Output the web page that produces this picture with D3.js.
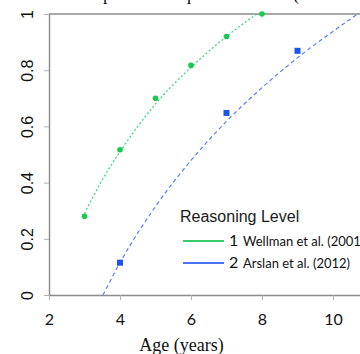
<!DOCTYPE html>
<html>
<head>
<meta charset="UTF-8">
<title>Reasoning Level by Age</title>
<script src="https://d3js.org/d3.v7.min.js"></script>
<style>
  body { margin: 0; background: #fff; }
  svg { display: block; }
</style>
</head>
<body>
<svg width="360" height="354"></svg>
<script>
// observed points
var greenAges = [3, 4, 5, 6, 7, 8];
var greenVals = [0.28, 0.517, 0.70, 0.817, 0.92, 1.0];
var blueAges = [4, 7, 9];
var blueVals = [0.115, 0.648, 0.869];

// trend curves
var greenTrendAges = [3, 3.5, 4, 5, 6, 7, 7.85];
var greenTrendVals = [0.29, 0.41, 0.51, 0.68, 0.81, 0.92, 1.0];
var blueTrendAges = [3.52, 4, 5, 6, 7, 8, 9, 10, 10.7];
var blueTrendVals = [0, 0.115, 0.315, 0.479, 0.618, 0.738, 0.844, 0.938, 1.0];

var xTicks = [2, 4, 6, 8, 10];
var yTicks = [0, 0.2, 0.4, 0.6, 0.8, 1];
var legendNums = ["1", "2"];
var legendLabels = ["Wellman et al. (2001", "Arslan et al. (2012)"];
var legendColors = ["#3cc96c", "#4a73f0"];

var svg = d3.select("svg");

var x = d3.scaleLinear().domain([2, 11]).range([49, 368.5]);
var y = d3.scaleLinear().domain([0, 1]).range([295, 14]);

// title line above the plot, mostly cut off by the frame
var title = svg.append("text")
  .attr("x", 0).attr("y", -0.5)
  .attr("font-family", "Liberation Serif, serif")
  .attr("font-size", 18)
  .attr("fill", "#111")
  .text("the children who passed the question asked (Sec");
var t = title.node();
var qi = title.text().indexOf("q");
var qx = t.getSubStringLength(0, qi);
title.attr("x", 182 - qx);

// top border
svg.append("line")
  .attr("x1", x(2)).attr("x2", 360)
  .attr("y1", y(1)).attr("y2", y(1))
  .attr("stroke", "#8a8a8a").attr("stroke-width", 1.6);

// x axis
var xAxis = svg.append("g")
  .attr("transform", "translate(0," + y(0) + ")")
  .call(d3.axisBottom(x).tickValues(xTicks).tickSize(5).tickSizeOuter(0).tickPadding(14));
xAxis.select(".domain").attr("stroke", "#8a8a8a").attr("stroke-width", 1.4);
xAxis.selectAll(".tick line").attr("stroke", "#b0b0b0");
xAxis.selectAll("text")
  .attr("font-family", "Lato, sans-serif")
  .attr("font-size", 16)
  .attr("fill", "#111");

// y axis
var yAxis = svg.append("g")
  .attr("transform", "translate(" + x(2) + ",0)")
  .call(d3.axisLeft(y).tickValues(yTicks).tickSize(5).tickSizeOuter(0).tickFormat(d3.format("")));
yAxis.select(".domain").attr("stroke", "#8a8a8a").attr("stroke-width", 1.4);
yAxis.selectAll(".tick line").attr("stroke", "#b0b0b0");
yAxis.selectAll("text")
  .attr("x", null).attr("dy", null)
  .attr("transform", "translate(-16,0) rotate(-90)")
  .attr("text-anchor", "middle")
  .attr("font-family", "Liberation Sans, Arial, sans-serif")
  .attr("font-size", 16)
  .attr("fill", "#111");

// x label
svg.append("text")
  .attr("x", 181.5).attr("y", 351)
  .attr("text-anchor", "middle")
  .attr("font-family", "Liberation Serif, serif")
  .attr("font-size", 18)
  .attr("fill", "#111")
  .text("Age (years)");

var line = d3.line()
  .x(d => x(d[0]))
  .y(d => y(d[1]))
  .curve(d3.curveMonotoneX);

svg.append("path")
  .datum(d3.zip(greenTrendAges, greenTrendVals))
  .attr("d", line)
  .attr("fill", "none")
  .attr("stroke", "#3fd67a")
  .attr("stroke-width", 1.3)
  .attr("stroke-dasharray", "2,2.2");

svg.append("path")
  .datum(d3.zip(blueTrendAges, blueTrendVals))
  .attr("d", line)
  .attr("fill", "none")
  .attr("stroke", "#5a80f2")
  .attr("stroke-width", 1.2)
  .attr("stroke-dasharray", "4,3");

svg.selectAll(".gpt")
  .data(d3.zip(greenAges, greenVals))
  .enter()
  .append("circle")
  .attr("class", "gpt")
  .attr("cx", d => x(d[0]))
  .attr("cy", d => y(d[1]))
  .attr("r", 2.8)
  .attr("fill", "#16c94f");

svg.selectAll(".bpt")
  .data(d3.zip(blueAges, blueVals))
  .enter()
  .append("rect")
  .attr("class", "bpt")
  .attr("x", d => x(d[0]) - 3)
  .attr("y", d => y(d[1]) - 3)
  .attr("width", 6)
  .attr("height", 6)
  .attr("fill", "#1c55ee");

// legend
var legend = svg.append("g");
legend.append("text")
  .attr("x", 180).attr("y", 222)
  .attr("font-family", "Liberation Sans, Arial, sans-serif")
  .attr("font-size", 16)
  .attr("fill", "#1a1a1a")
  .text("Reasoning Level");

var rows = legend.selectAll(".row")
  .data(legendNums)
  .enter()
  .append("g")
  .attr("class", "row")
  .attr("transform", (d, i) => "translate(0," + (241 + i * 22) + ")");

rows.append("line")
  .attr("x1", 183).attr("x2", 224)
  .attr("stroke", (d, i) => legendColors[i])
  .attr("stroke-width", 2);

rows.append("text")
  .attr("x", 229).attr("y", 5)
  .attr("font-family", "Lato, sans-serif")
  .attr("font-size", 16)
  .attr("fill", "#111")
  .text(d => d);

rows.append("text")
  .attr("x", 243).attr("y", 5)
  .attr("font-family", "Lato, sans-serif")
  .attr("font-size", 13)
  .attr("fill", "#111")
  .text((d, i) => legendLabels[i]);
</script>
</body>
</html>
